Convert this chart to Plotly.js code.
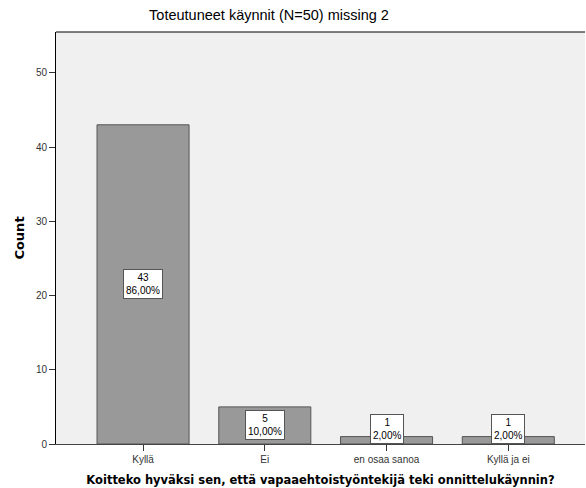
<!DOCTYPE html>
<html>
<head>
<meta charset="utf-8">
<script src="https://cdn.plot.ly/plotly-3.0.1.min.js"></script>
<style>html,body{margin:0;padding:0;background:#fff;}#chart{width:586px;height:488px;}</style>
</head>
<body>
<div id="chart"></div>
<script>
const categories = ["Kyllä", "Ei", "en osaa sanoa", "Kyllä ja ei"];
const counts = [43, 5, 1, 1];
const percents = ["86,00%", "10,00%", "2,00%", "2,00%"];
const yTicks = [0, 10, 20, 30, 40, 50];

const trace = {
  type: "bar",
  x: categories,
  y: counts,
  width: 0.756,
  marker: {color: "#999999", line: {color: "#555555", width: 1}},
  hoverinfo: "none"
};

const annotations = categories.map((c, i) => ({
  x: c, y: Math.max(counts[i] / 2, 2.0), xref: "x", yref: "y",
  text: counts[i] + "<br>" + percents[i],
  showarrow: false,
  bgcolor: "#ffffff", bordercolor: "#555555", borderwidth: 1, borderpad: 2,
  font: {family: "Liberation Sans, Arial, sans-serif", size: 10, color: "#000"}
}));

const layout = {
  width: 586, height: 488,
  margin: {l: 56, r: 1, t: 32, b: 44},
  paper_bgcolor: "#ffffff",
  plot_bgcolor: "#F0F0F0",
  showlegend: false,
  title: {
    text: "Toteutuneet käynnit (N=50) missing 2",
    font: {family: "Liberation Sans, Arial, sans-serif", size: 14.5, color: "#000"},
    x: 269 / 586, xanchor: "center", y: 1 - 15 / 488, yanchor: "middle", xref: "container", yref: "container"
  },
  xaxis: {
    type: "category",
    range: [-0.715, 3.63],
    showline: true, linecolor: "#444444", linewidth: 1,
    ticks: "outside", ticklen: 6, tickcolor: "#333333",
    tickfont: {family: "Liberation Sans, Arial, sans-serif", size: 10, color: "#333"},
    showgrid: false, zeroline: false, fixedrange: true,
    automargin: false,
    title: {
      text: "Koitteko hyväksi sen, että vapaaehtoistyöntekijä teki onnittelukäynnin?",
      font: {family: "DejaVu Sans, Verdana, sans-serif", size: 11.5, color: "#000", weight: "bold"},
      standoff: 11
    }
  },
  yaxis: {
    range: [0, 55.5],
    tickvals: yTicks,
    showline: true, linecolor: "#000000", linewidth: 1,
    ticks: "outside", ticklen: 6, tickcolor: "#333333",
    tickfont: {family: "Liberation Sans, Arial, sans-serif", size: 10, color: "#333"},
    showgrid: false, zeroline: false, fixedrange: true,
    automargin: false,
    title: {
      text: "Count",
      font: {family: "DejaVu Sans, Verdana, sans-serif", size: 13, color: "#000", weight: "bold"},
      standoff: 8
    }
  },
  shapes: [{type: "line", xref: "paper", yref: "paper", x0: 0, x1: 1, y0: 1, y1: 1, line: {color: "#000", width: 1}}],
  annotations: annotations
};

Plotly.newPlot("chart", [trace], layout, {displayModeBar: false, staticPlot: true});
</script>
</body>
</html>
